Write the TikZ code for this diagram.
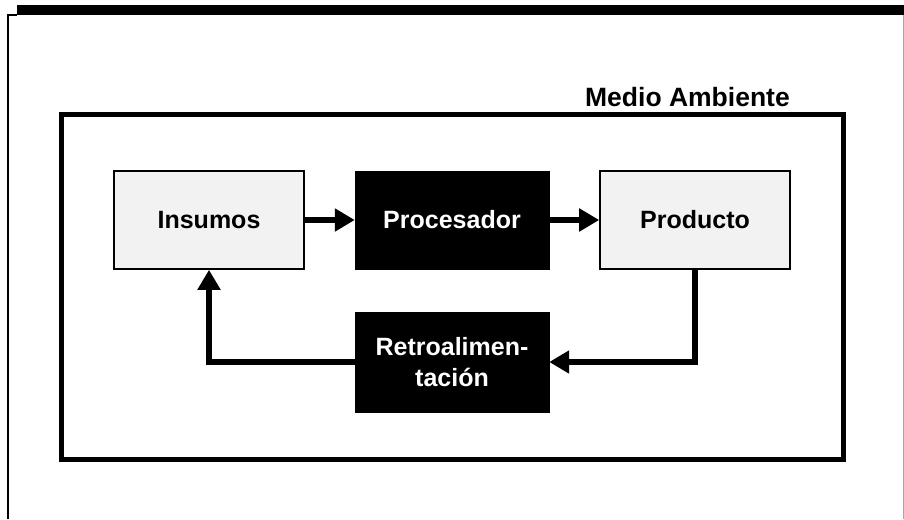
\documentclass[tikz,border=0pt]{standalone}
\usepackage{fontspec}
\setmainfont{Liberation Sans}
\usetikzlibrary{arrows.meta}
\begin{document}
\begin{tikzpicture}[x=1pt,y=-1pt,
  lightbox/.style={draw, line width=1.6pt, fill=black!5, inner sep=0pt,
    minimum width=190pt, minimum height=98pt,
    font=\bfseries\fontsize{25}{31}\selectfont},
  darkbox/.style={draw, fill=black, text=white, inner sep=0pt,
    minimum width=194pt, minimum height=98pt, align=center,
    font=\bfseries\fontsize{25}{31}\selectfont},
  flow/.style={line width=5.5pt, -{Triangle[length=20pt,width=22pt]}},
  frameline/.style={line width=5pt}]
\useasboundingbox (0,0) rectangle (904,519);

% page frame: dark band along the top, thin rule down the left side
\fill (17,5.5) rectangle (904,15);
\fill (7,14) rectangle (17,16);
\draw[line width=2pt] (8,14) -- (8,519);
\draw[line width=1pt, black!35] (903,15) -- (903,519);

% environment frame and its title
\node[draw, frameline, inner sep=0pt, minimum width=782.5pt, minimum height=345pt]
  (env) at (452.25,286.5) {};
\node[anchor=base east, inner sep=0pt, font=\bfseries\fontsize{26.5}{30}\selectfont]
  (envlabel) at (790,106) {Medio Ambiente};

% system blocks
\node[lightbox] (ins) at (209,220) {Insumos};
\node[darkbox] (proc) at (452,220) {Procesador};
\node[lightbox] (prod) at (695,220) {Producto};
\node[darkbox, minimum height=100pt] (retro) at (452,362) {Retroalimen-\\tación};

% flows
\draw[flow] (ins.east) -- (proc.west);
\draw[flow] (proc.east) -- (prod.west);
\draw[flow] (prod.south) |- (retro.east);
\draw[flow] (retro.west) -| (ins.south);
\end{tikzpicture}
\end{document}
